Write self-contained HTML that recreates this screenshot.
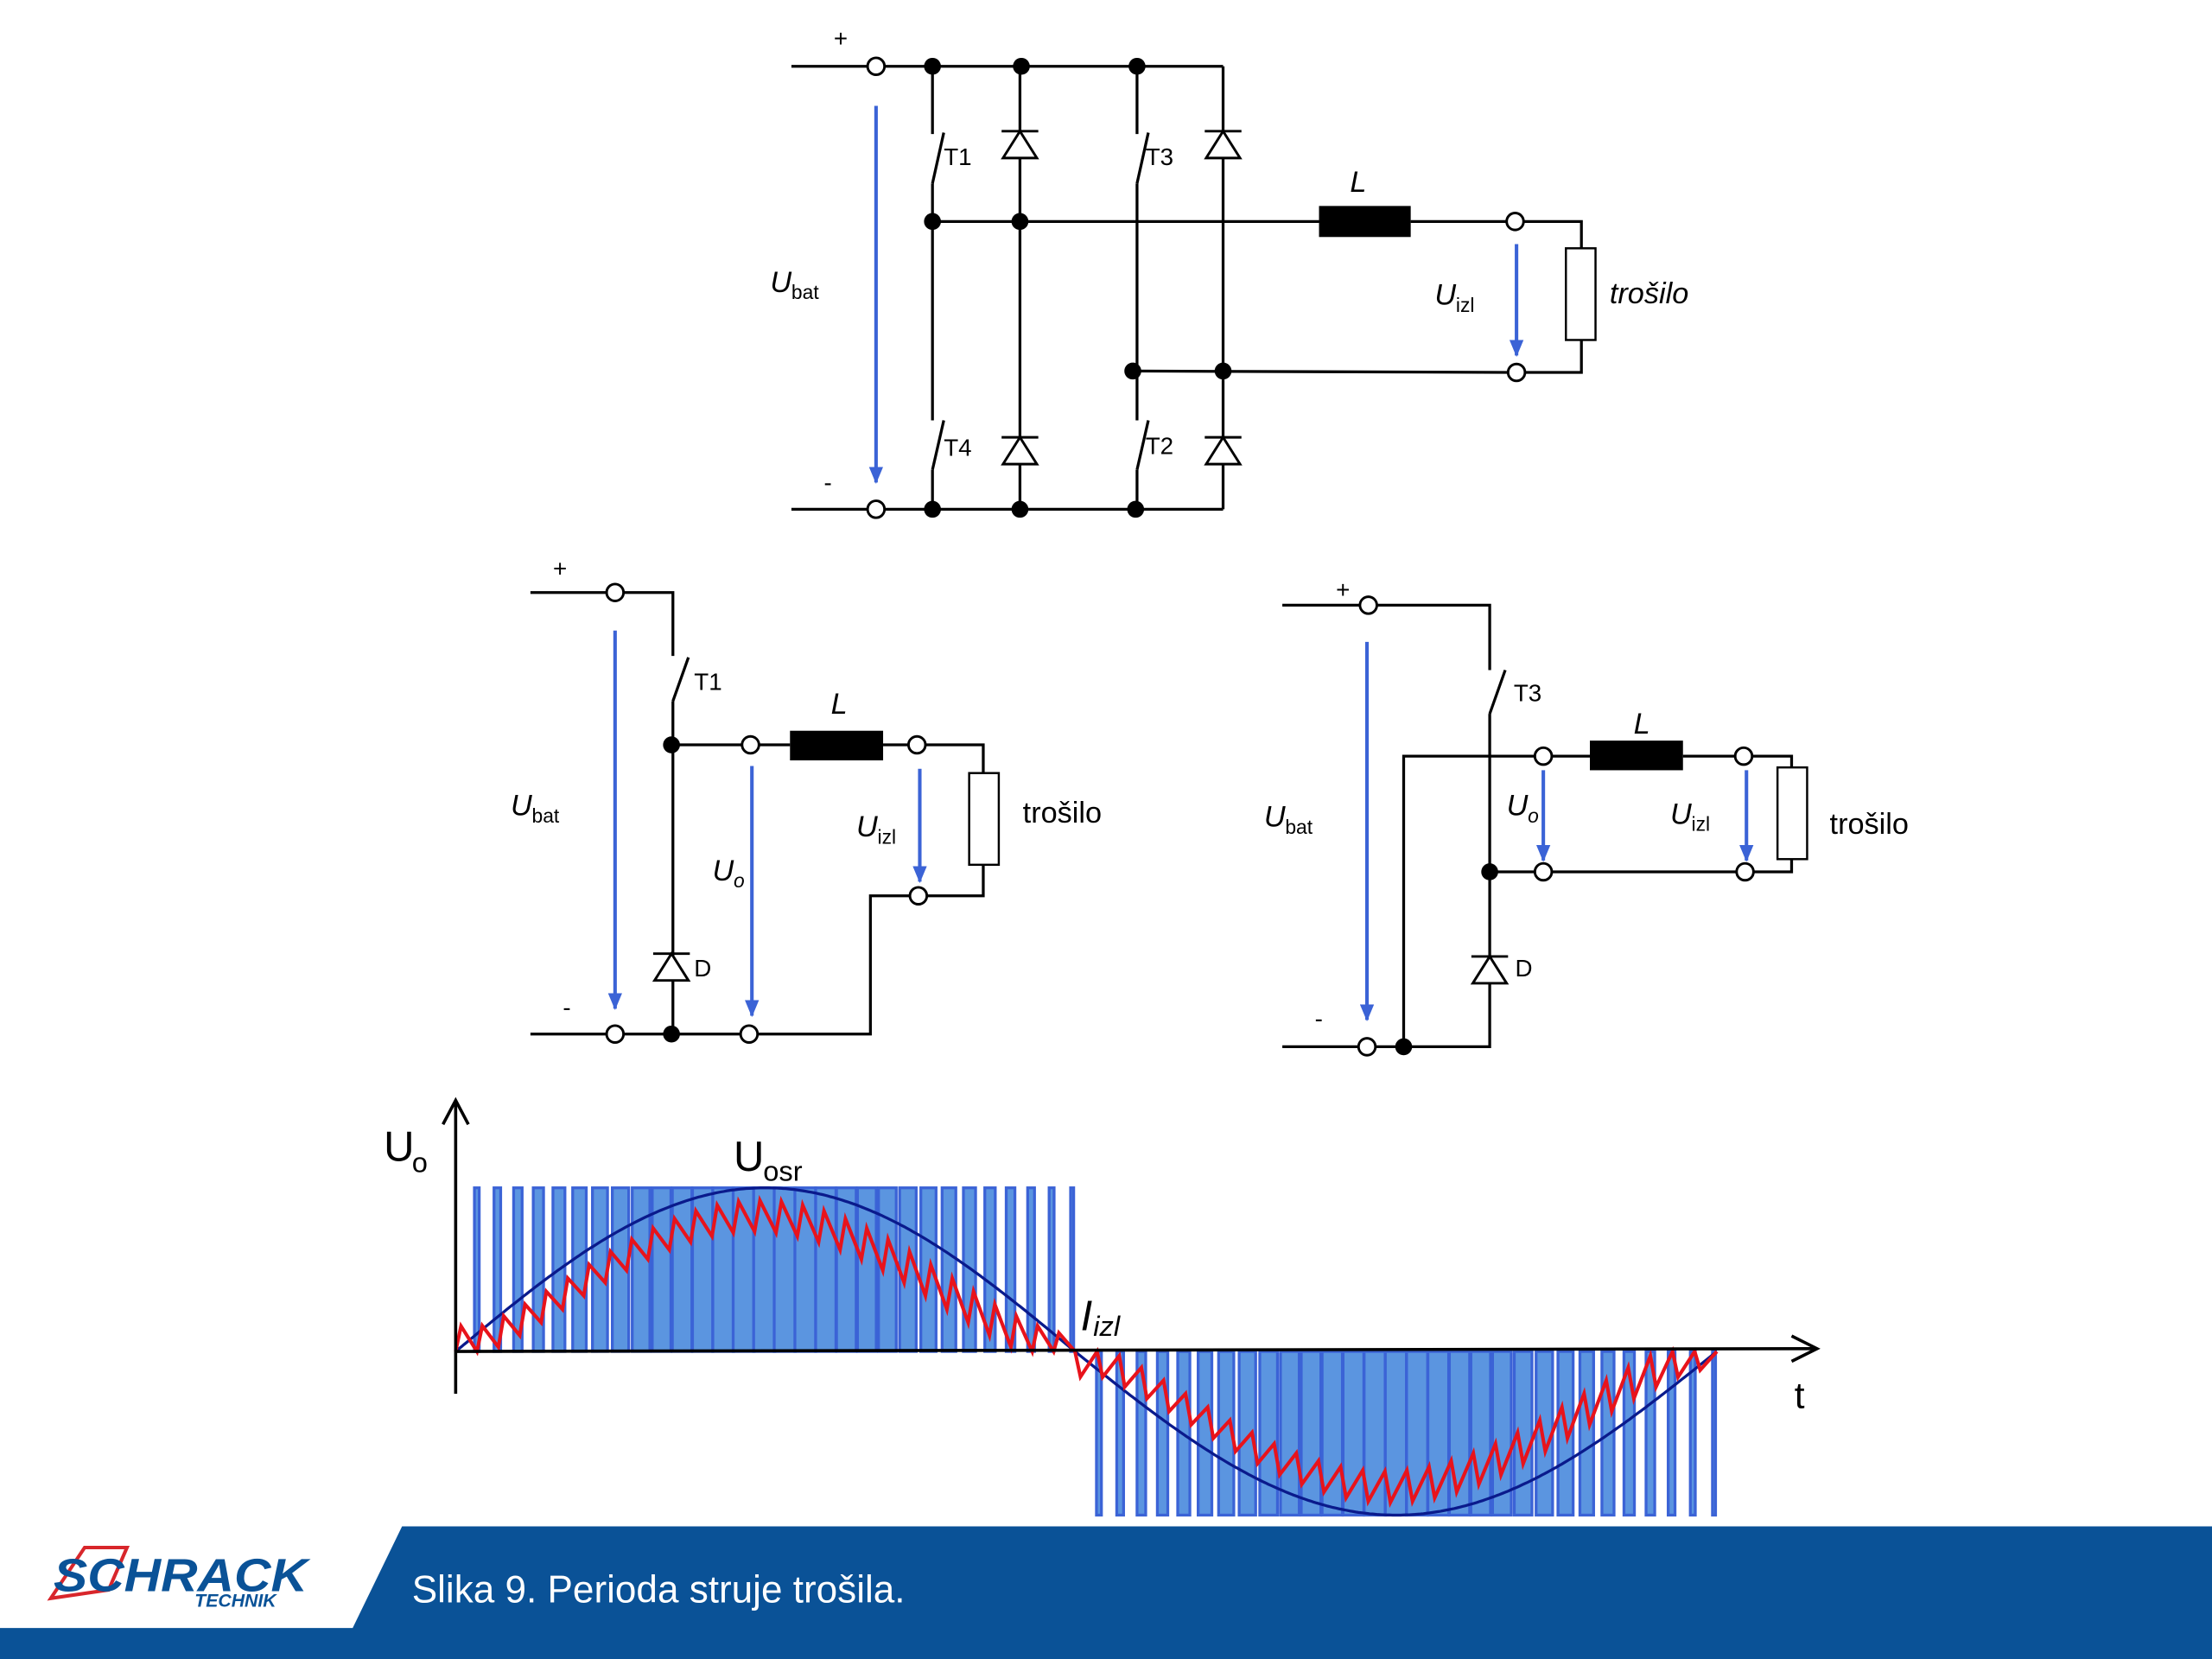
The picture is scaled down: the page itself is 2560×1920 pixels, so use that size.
<!DOCTYPE html>
<html><head><meta charset="utf-8"><style>
html,body{margin:0;padding:0;background:#fff;width:2560px;height:1920px;overflow:hidden}
svg{display:block}
text{font-family:"Liberation Sans",Arial,sans-serif;fill:#000}
</style></head><body>
<svg id="s" width="2560" height="1920" viewBox="0 0 1568 1176" xmlns="http://www.w3.org/2000/svg">
<defs>
<marker id="ab" markerWidth="12" markerHeight="10" refX="11" refY="5" orient="auto" markerUnits="userSpaceOnUse" viewBox="0 0 12 10"><path d="M0,0 L12,5 L0,10 z" fill="#3b63d6"/></marker>
</defs>
<g id="wave"></g>
<g stroke="#000" stroke-width="2.2" fill="none">
<line x1="323" y1="988" x2="323" y2="781"/>
<polyline points="314,797 323,780 332,797"/>
<line x1="323" y1="958" x2="1287" y2="956"/>
<polyline points="1270,947 1288,956 1270,965"/>
</g>
<text x="272" y="823" font-size="30">U</text><text x="292" y="831" font-size="20">o</text>
<text x="520" y="830" font-size="30">U</text><text x="541" y="837" font-size="20">osr</text>
<text x="766" y="943" font-size="30" font-style="italic">I</text><text x="775" y="947" font-size="20" font-style="italic">izl</text>
<text x="1272" y="998" font-size="26">t</text>

<g stroke="#000" stroke-width="2" fill="none" id="c">
<line x1="561" y1="47" x2="615" y2="47"/><line x1="627" y1="47" x2="867" y2="47"/>
<line x1="561" y1="361" x2="615" y2="361"/><line x1="627" y1="361" x2="867" y2="361"/>
<polyline points="661,47 661,95"/><line x1="661" y1="130" x2="669" y2="94"/><polyline points="661,130 661,298"/>
<line x1="661" y1="333" x2="669" y2="298"/><line x1="661" y1="333" x2="661" y2="361"/>
<line x1="723" y1="47" x2="723" y2="361"/>
<line x1="806" y1="47" x2="806" y2="95"/><line x1="806" y1="130" x2="814" y2="94"/><line x1="806" y1="130" x2="806" y2="298"/>
<line x1="806" y1="333" x2="814" y2="298"/><line x1="806" y1="333" x2="806" y2="361"/>
<line x1="867" y1="47" x2="867" y2="361"/>
<line x1="661" y1="157" x2="935" y2="157"/><line x1="1000" y1="157" x2="1068" y2="157"/>
<polyline points="1080,157 1121,157 1121,176"/><polyline points="1121,241 1121,264 1081,264"/>
<line x1="803" y1="263" x2="1069" y2="264"/>
<line x1="376" y1="420" x2="430" y2="420"/><polyline points="442,420 477,420 477,465"/>
<line x1="477" y1="497" x2="488" y2="466"/><line x1="477" y1="497" x2="477" y2="733"/>
<line x1="476" y1="528" x2="526" y2="528"/><line x1="538" y1="528" x2="560" y2="528"/><line x1="626" y1="528" x2="644" y2="528"/>
<polyline points="656,528 697,528 697,548"/><polyline points="697,613 697,635 657,635"/>
<polyline points="645,635 617,635 617,733 537,733"/>
<line x1="376" y1="733" x2="430" y2="733"/><line x1="442" y1="733" x2="525" y2="733"/>
<line x1="909" y1="429" x2="964" y2="429"/><polyline points="976,429 1056,429 1056,475"/>
<line x1="1056" y1="506" x2="1067" y2="475"/><polyline points="1056,506 1056,742 975,742"/>
<line x1="909" y1="742" x2="963" y2="742"/>
<polyline points="995,742 995,536 1088,536"/><line x1="1100" y1="536" x2="1127" y2="536"/><line x1="1193" y1="536" x2="1230" y2="536"/>
<polyline points="1242,536 1270,536 1270,544"/><polyline points="1270,609 1270,618 1243,618"/>
<line x1="1231" y1="618" x2="1100" y2="618"/><line x1="1088" y1="618" x2="1056" y2="618"/>
</g>
<g stroke="#000" stroke-width="1.5" fill="#fff">
<rect x="1110" y="176" width="21" height="65"/><rect x="687" y="548" width="21" height="65"/><rect x="1260" y="544" width="21" height="65"/>
</g>
<g fill="#000">
<rect x="935" y="146" width="65" height="22"/><rect x="560" y="518" width="66" height="21"/><rect x="1127" y="525" width="66" height="21"/>
</g>
<g stroke="#000" stroke-width="1.8" fill="#fff" id="d"></g>
<g fill="#000">
<circle cx="661" cy="47" r="6"/><circle cx="724" cy="47" r="6"/><circle cx="806" cy="47" r="6"/>
<circle cx="661" cy="157" r="6"/><circle cx="723" cy="157" r="6"/>
<circle cx="803" cy="263" r="6"/><circle cx="867" cy="263" r="6"/>
<circle cx="661" cy="361" r="6"/><circle cx="723" cy="361" r="6"/><circle cx="805" cy="361" r="6"/>
<circle cx="476" cy="528" r="6"/><circle cx="476" cy="733" r="6"/>
<circle cx="1056" cy="618" r="6"/><circle cx="995" cy="742" r="6"/>
</g>
<g stroke="#000" stroke-width="1.8" fill="#fff">
<circle cx="621" cy="47" r="6"/><circle cx="621" cy="361" r="6"/><circle cx="1074" cy="157" r="6"/><circle cx="1075" cy="264" r="6"/>
<circle cx="436" cy="420" r="6"/><circle cx="532" cy="528" r="6"/><circle cx="650" cy="528" r="6"/><circle cx="651" cy="635" r="6"/><circle cx="436" cy="733" r="6"/><circle cx="531" cy="733" r="6"/>
<circle cx="970" cy="429" r="6"/><circle cx="969" cy="742" r="6"/><circle cx="1094" cy="536" r="6"/><circle cx="1236" cy="536" r="6"/><circle cx="1094" cy="618" r="6"/><circle cx="1237" cy="618" r="6"/>
</g>
<g stroke="#3b63d6" stroke-width="2.5" marker-end="url(#ab)">
<line x1="621" y1="75" x2="621" y2="342"/><line x1="1075" y1="173" x2="1075" y2="252"/>
<line x1="436" y1="447" x2="436" y2="715"/><line x1="533" y1="543" x2="533" y2="720"/><line x1="652" y1="545" x2="652" y2="625"/>
<line x1="969" y1="455" x2="969" y2="723"/><line x1="1094" y1="546" x2="1094" y2="610"/><line x1="1238" y1="546" x2="1238" y2="610"/>
</g>
<g font-size="17">
<text x="591" y="33">+</text><text x="584" y="348">-</text>
<text x="669" y="117">T1</text><text x="669" y="323">T4</text><text x="812" y="117">T3</text><text x="812" y="322">T2</text>
<text x="392" y="409">+</text><text x="399" y="720">-</text>
<text x="492" y="489">T1</text><text x="492" y="692">D</text>
<text x="947" y="424">+</text><text x="932" y="728">-</text>
<text x="1073" y="497">T3</text><text x="1074" y="692">D</text>
</g>
<g font-size="21" font-style="italic">
<text x="957" y="136">L</text><text x="589" y="506">L</text><text x="1158" y="520">L</text>
<text x="546" y="207">U</text><text x="561" y="212" font-size="14" font-style="normal">bat</text>
<text x="1017" y="216">U</text><text x="1032" y="221" font-size="14" font-style="normal">izl</text>
<text x="1141" y="215">trošilo</text>
<text x="362" y="578">U</text><text x="377" y="583" font-size="14" font-style="normal">bat</text>
<text x="505" y="624">U</text><text x="520" y="629" font-size="14">o</text>
<text x="607" y="593">U</text><text x="622" y="598" font-size="14" font-style="normal">izl</text>
<text x="725" y="583" font-style="normal">trošilo</text>
<text x="896" y="586">U</text><text x="911" y="591" font-size="14" font-style="normal">bat</text>
<text x="1068" y="578">U</text><text x="1083" y="583" font-size="14">o</text>
<text x="1184" y="584">U</text><text x="1199" y="589" font-size="14" font-style="normal">izl</text>
<text x="1297" y="591" font-style="normal">trošilo</text>
</g>
<path d="M285,1082 L1568,1082 L1568,1176 L0,1176 L0,1154 L250,1154 Z" fill="#0a5297"/>
<text x="292" y="1136" font-size="27" style="fill:#fff">Slika 9. Perioda struje trošila.</text>
<path d="M60,1097 L90,1097 L77,1127 L36,1133 Z" fill="none" stroke="#d8262b" stroke-width="2.5"/>
<text x="38" y="1128" font-size="33" font-weight="bold" font-style="italic" style="fill:#0a5297" textLength="180" lengthAdjust="spacingAndGlyphs">SCHRACK</text>
<text x="138" y="1139" font-size="13" font-weight="bold" font-style="italic" style="fill:#0a5297">TECHNIK</text>
</svg>
<script>
var NS="http://www.w3.org/2000/svg",w=document.getElementById("wave"),d=document.getElementById("d");
function el(t,a,p){var e=document.createElementNS(NS,t);for(var k in a)e.setAttribute(k,a[k]);p.appendChild(e);return e;}
[[723,102],[723,319],[867,102],[867,319],[476,685],[1056,687]].forEach(function(q){var x=q[0],y=q[1];
el("path",{d:"M"+(x-12)+","+(y+10)+" L"+(x+12)+","+(y+10)+" L"+x+","+(y-9)+" Z"},d);
el("line",{x1:x-13,y1:y-9,x2:x+13,y2:y-9},d);});
function bars(x0,x1,n,top,bot,L){for(var k=0;k<n;k++){var c=x0+k*(x1-x0)/(n-1);var s=Math.sin(Math.PI*(c-L[0])/(L[1]-L[0]));var wd=2+13*s;
el("rect",{x:c-wd/2,y:top,width:wd,height:bot-top,fill:"#5b95e0",stroke:"#3b63d6","stroke-width":2},w);}}
bars(338,760,30,842,958,[323,762]);bars(779,1215,30,958,1074,[762,1217]);
var p="";for(var x=323;x<=1217;x+=2){var y=x<=762?958-116*Math.sin(Math.PI*(x-323)/439):958+116*Math.sin(Math.PI*(x-762)/455);p+=(p?" L":"M")+x+","+y.toFixed(1);}
el("path",{d:p,fill:"none",stroke:"#0a1a8c","stroke-width":2},w);
function red(x0,x1,n,sg){var pts=[[x0,958]];var per=(x1-x0)/n;
for(var k=0;k<n;k++){var a=x0+k*per,b=a+per*0.25;var ph=(k+0.5)/n;var m=95*Math.pow(Math.sin(Math.PI*ph),1.5);
var lo=Math.max(0,m-10),hi=m+12;if(k==0){lo=0;hi=18;}
pts.push([a,958-sg*lo]);pts.push([b,958-sg*hi]);}
pts.push([x1,958]);var s="";pts.forEach(function(q,i){s+=(i?" L":"M")+q[0].toFixed(1)+","+q[1].toFixed(1);});
el("path",{d:s,fill:"none",stroke:"#e8131b","stroke-width":2.5},w);}
red(323,762,29,1);red(762,1217,29,-1);
</script>
</body></html>
